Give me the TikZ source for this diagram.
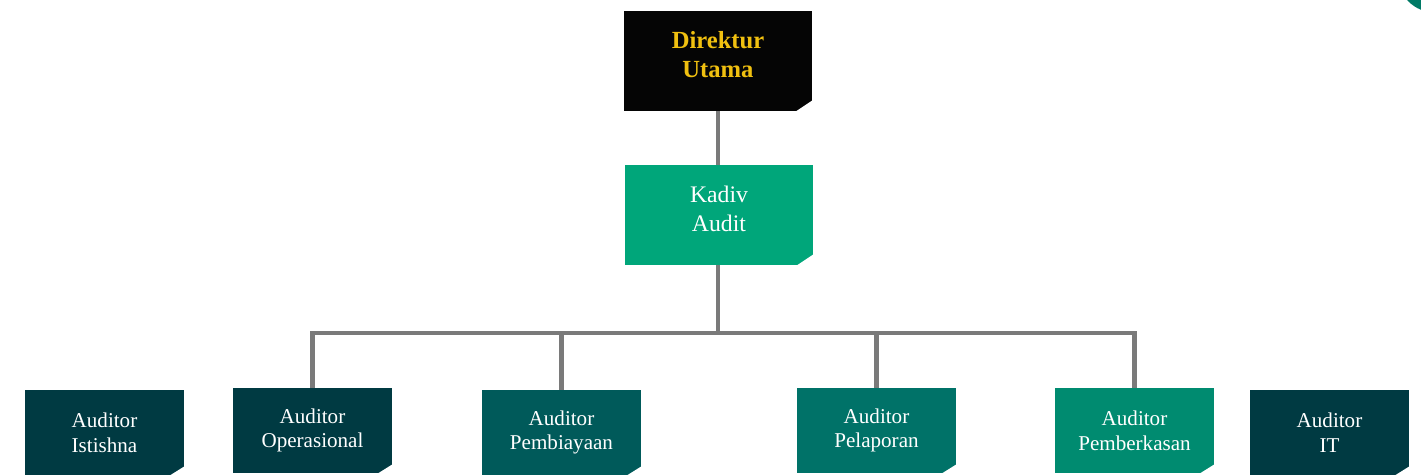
\documentclass[tikz,border=0pt]{standalone}
\usepackage{fontspec}
\setmainfont{Liberation Serif}
\usetikzlibrary{positioning}

\definecolor{dirblack}{HTML}{050505}
\definecolor{diryellow}{HTML}{F0C010}
\definecolor{kadivgreen}{HTML}{00A67A}
\definecolor{darkteal}{HTML}{003A42}
\definecolor{midteal}{HTML}{005A5A}
\definecolor{lapteal}{HTML}{007268}
\definecolor{berkteal}{HTML}{008B70}
\definecolor{dotteal}{HTML}{007A66}
\definecolor{linegray}{HTML}{7A7A7A}

\begin{document}
\begin{tikzpicture}[x=0.02cm,y=-0.02cm,
  box/.style={rectangle,inner sep=0pt,align=center,text=white,
    minimum width=3.18cm,minimum height=1.7cm,font=\fontsize{12}{14}\selectfont,
    path picture={\fill[white] ([shift={(1,1)}]path picture bounding box.south east)
      -- ++(-16,0) -- ++(16,-10) -- cycle;}},
  bigbox/.style={box,minimum width=3.76cm,minimum height=2cm,
    font=\fontsize{13.5}{16.5}\selectfont,text height=26pt,text depth=7pt,
    path picture={\fill[white] ([shift={(1,1)}]path picture bounding box.south east)
      -- ++(-18,0) -- ++(18,-12) -- cycle;}},
  link/.style={draw=linegray,line width=2.3pt}]
\useasboundingbox (0,0) rectangle (1421,475);
\begin{scope}
\clip (0,0) rectangle (1421,475);
\fill[dotteal] (1435,-25) circle[radius=0.75cm];
\end{scope}
% top of the chart
\node[bigbox,fill=dirblack,text=diryellow,font=\bfseries\fontsize{14}{16.5}\selectfont] (dirut) at (718,61) {Direktur\\Utama};
\node[bigbox,fill=kadivgreen] (kadiv) at (719,215) {Kadiv\\Audit};
% auditors
\node[box,fill=darkteal] (istishna) at (104.5,432.5) {Auditor\\Istishna};
\node[box,fill=darkteal] (oper) at (312.5,430.5) {Auditor\\Operasional};
\node[box,fill=midteal] (biaya) at (561.5,432.5) {Auditor\\Pembiayaan};
\node[box,fill=lapteal] (lapor) at (876.5,430.5) {Auditor\\Pelaporan};
\node[box,fill=berkteal] (berkas) at (1134.5,430.5) {Auditor\\Pemberkasan};
\node[box,fill=darkteal] (it) at (1329.5,432.5) {Auditor\\IT};
% lines
\coordinate (hub) at (718,333);
\draw[link] (dirut) -- (dirut|-kadiv.north);
\draw[link] (dirut|-kadiv.south) -- (hub);
\draw[link] (oper.north) |- (hub) -| (berkas.north);
\draw[link] (biaya.north) -- (biaya.north|-hub);
\draw[link] (lapor.north) -- (lapor.north|-hub);
\end{tikzpicture}
\end{document}
